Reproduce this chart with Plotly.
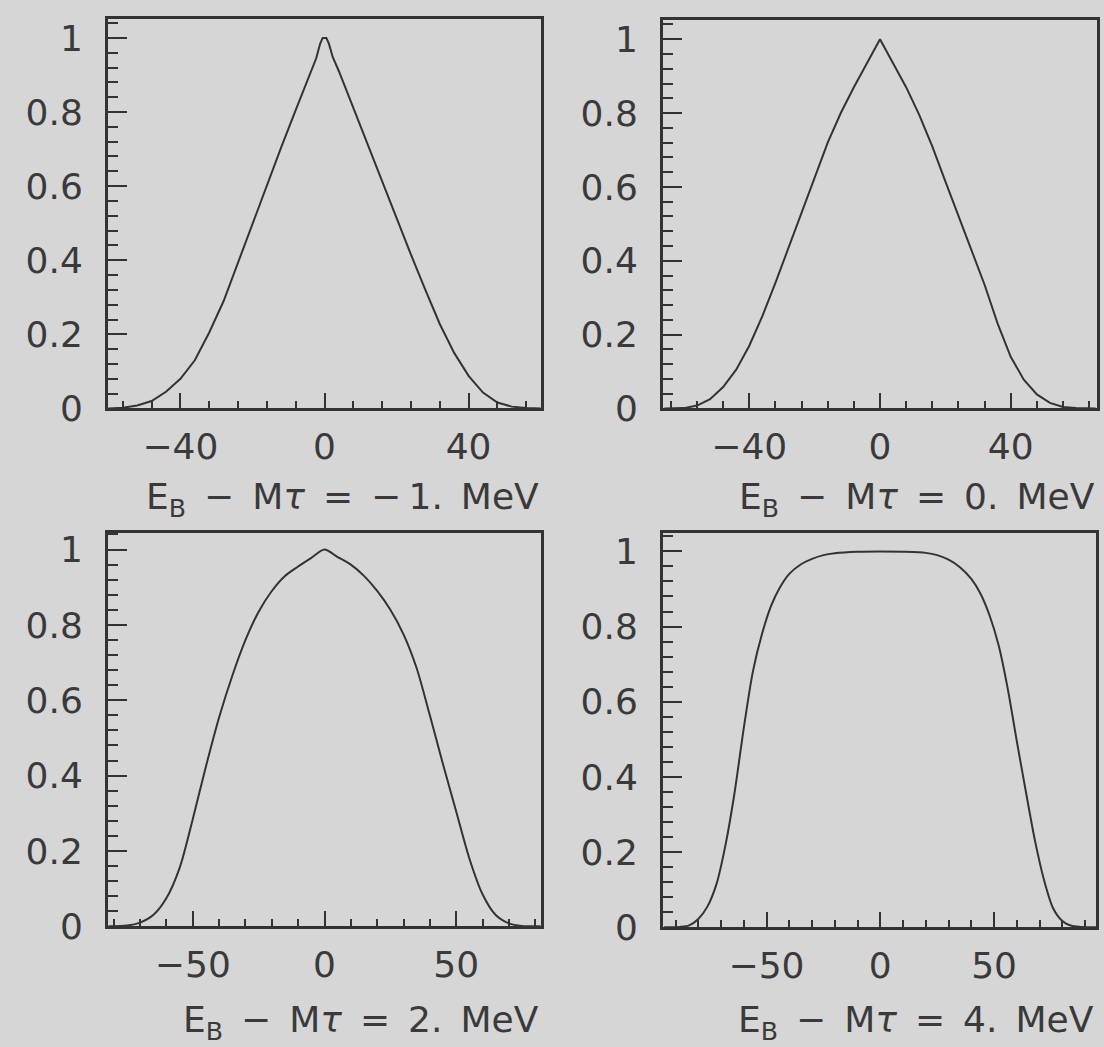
import plotly.graph_objects as go

W, H = 1104, 1047

# ---------------- data ----------------
# Panel 1 : E_B - M tau = -1 MeV
x_m1 = [-60, -56, -52, -48, -44, -40, -36, -32, -28, -24, -20, -16, -12, -8, -4,
        -2.3, -1.2, -0.5, 0, 0.5, 1.2, 2.3, 4, 8, 12, 16, 20, 24, 28, 32, 36, 40,
        44, 48, 52, 56, 60]
y_m1 = [0, 0.002, 0.008, 0.02, 0.045, 0.08, 0.13, 0.205, 0.29, 0.395, 0.5, 0.6,
        0.705, 0.805, 0.905, 0.945, 0.985, 1.0, 1.0, 1.0, 0.985, 0.948, 0.91, 0.81,
        0.71, 0.61, 0.51, 0.415, 0.32, 0.228, 0.15, 0.088, 0.043, 0.016, 0.005,
        0.001, 0]

# Panel 2 : E_B - M tau = 0 MeV
x_0 = [-66, -60, -56, -52, -48, -44, -40, -36, -32, -28, -24, -20, -16, -12, -8,
       -4, 0, 4, 8, 12, 16, 20, 24, 28, 32, 36, 40, 44, 48, 52, 56, 60, 66]
y_0 = [0, 0.001, 0.008, 0.025, 0.058, 0.105, 0.17, 0.25, 0.34, 0.435, 0.53, 0.62,
       0.72, 0.8, 0.87, 0.935, 1.0, 0.935, 0.87, 0.795, 0.71, 0.615, 0.52, 0.43,
       0.335, 0.23, 0.14, 0.078, 0.038, 0.015, 0.004, 0.001, 0]

# Panel 3 : E_B - M tau = 2 MeV
x_2 = [-82, -75, -70, -65, -60, -55, -50, -45, -40, -35, -30, -25, -20, -15, -10,
       -5, 0, 5, 10, 15, 20, 25, 30, 35, 40, 45, 50, 55, 60, 65, 70, 75, 82]
y_2 = [0, 0.002, 0.01, 0.03, 0.075, 0.155, 0.285, 0.425, 0.555, 0.665, 0.76, 0.835,
       0.89, 0.93, 0.955, 0.978, 1.0, 0.98, 0.96, 0.93, 0.89, 0.84, 0.775, 0.685,
       0.56, 0.43, 0.305, 0.18, 0.085, 0.03, 0.008, 0.001, 0]

# Panel 4 : E_B - M tau = 4 MeV
x_4 = [-95, -88, -84, -80, -76, -72, -68, -64, -60, -56, -52, -48, -44, -40, -35,
       -30, -25, -20, -10, 0, 10, 20, 25, 30, 35, 40, 44, 48, 52, 56, 60, 64, 68,
       72, 76, 80, 84, 88, 95]
y_4 = [0, 0.001, 0.005, 0.022, 0.055, 0.115, 0.22, 0.36, 0.53, 0.68, 0.78, 0.855,
       0.905, 0.94, 0.965, 0.98, 0.99, 0.995, 0.999, 1.0, 0.999, 0.996, 0.99, 0.978,
       0.958, 0.927, 0.888, 0.83, 0.75, 0.635, 0.495, 0.36, 0.23, 0.125, 0.05, 0.017,
       0.004, 0.001, 0]

titles = [
    "E<sub>B</sub>\u2002\u2212\u2002M<i>\u03c4</i>\u2002=\u2002\u2212\u20091.\u2002MeV",
    "E<sub>B</sub>\u2002\u2212\u2002M<i>\u03c4</i>\u2002=\u20020.\u2002MeV",
    "E<sub>B</sub>\u2002\u2212\u2002M<i>\u03c4</i>\u2002=\u20022.\u2002MeV",
    "E<sub>B</sub>\u2002\u2212\u2002M<i>\u03c4</i>\u2002=\u20024.\u2002MeV",
]

panels = [
    dict(x=x_m1, y=y_m1, shape="linear", xr=[-60.1, 60.1], yr=[0, 1.052],
         dt=40, mdt=8, px=[108, 541], py=[16, 415], ty=508, ys=0),
    dict(x=x_0, y=y_0, shape="linear", xr=[-66.4, 66.4], yr=[0, 1.053],
         dt=40, mdt=8, px=[663, 1097], py=[17, 415], ty=508, ys=0),
    dict(x=x_2, y=y_2, shape="spline", xr=[-82.2, 82.2], yr=[0, 1.045],
         dt=50, mdt=10, px=[108, 541], py=[542, 945], ty=1030, ys=-13),
    dict(x=x_4, y=y_4, shape="spline", xr=[-95.5, 94.8], yr=[0, 1.05],
         dt=50, mdt=10, px=[663, 1096], py=[542, 946], ty=1030, ys=-13),
]

INK = "#333333"
BG = "#d6d6d6"
FONT = dict(family="DejaVu Sans", size=36, color="#3a3a3a")

fig = go.Figure()
layout = {}
annotations = []
for i, p in enumerate(panels, start=1):
    sfx = "" if i == 1 else str(i)
    fig.add_trace(go.Scatter(
        x=p["x"], y=p["y"], mode="lines",
        line=dict(color=INK, width=2, shape=p["shape"], smoothing=0.8),
        xaxis="x" + sfx, yaxis="y" + sfx, showlegend=False, hoverinfo="skip"))
    layout["xaxis" + sfx] = dict(
        domain=[p["px"][0] / W, p["px"][1] / W], anchor="y" + sfx,
        range=p["xr"], showgrid=False, zeroline=False,
        showline=True, linecolor=INK, linewidth=3, mirror=True,
        ticks="inside", tickmode="linear", tick0=0, dtick=p["dt"],
        ticklen=15, tickwidth=2, tickcolor=INK,
        minor=dict(ticks="inside", dtick=p["mdt"], tick0=0, ticklen=7,
                   tickwidth=2, tickcolor=INK, showgrid=False),
        tickfont=FONT, ticklabelstandoff=4)
    layout["yaxis" + sfx] = dict(
        domain=[1 - p["py"][1] / H, 1 - p["py"][0] / H], anchor="x" + sfx,
        range=p["yr"], showgrid=False, zeroline=False,
        showline=True, linecolor=INK, linewidth=3, mirror=True,
        ticks="inside", tickmode="linear", tick0=0, dtick=0.2,
        ticklen=19, tickwidth=2, tickcolor=INK,
        minor=dict(ticks="inside", dtick=0.04, tick0=0, ticklen=10,
                   tickwidth=2, tickcolor=INK, showgrid=False),
        tickfont=FONT, ticklabelstandoff=15)
    annotations.append(dict(
        text=titles[i - 1], x=p["px"][1] / W, xref="paper", xanchor="right",
        y=1 - p["ty"] / H, yref="paper", yanchor="middle", yshift=p["ys"],
        showarrow=False, font=FONT))

fig.update_layout(
    width=W, height=H, margin=dict(l=0, r=0, t=0, b=0),
    paper_bgcolor=BG, plot_bgcolor=BG, annotations=annotations,
    font=FONT, **layout)

fig.write_html(
    "out.html",
    config={"displayModeBar": False},
    post_script="document.body.style.margin='0px';"
                "document.body.style.background='" + BG + "';")
